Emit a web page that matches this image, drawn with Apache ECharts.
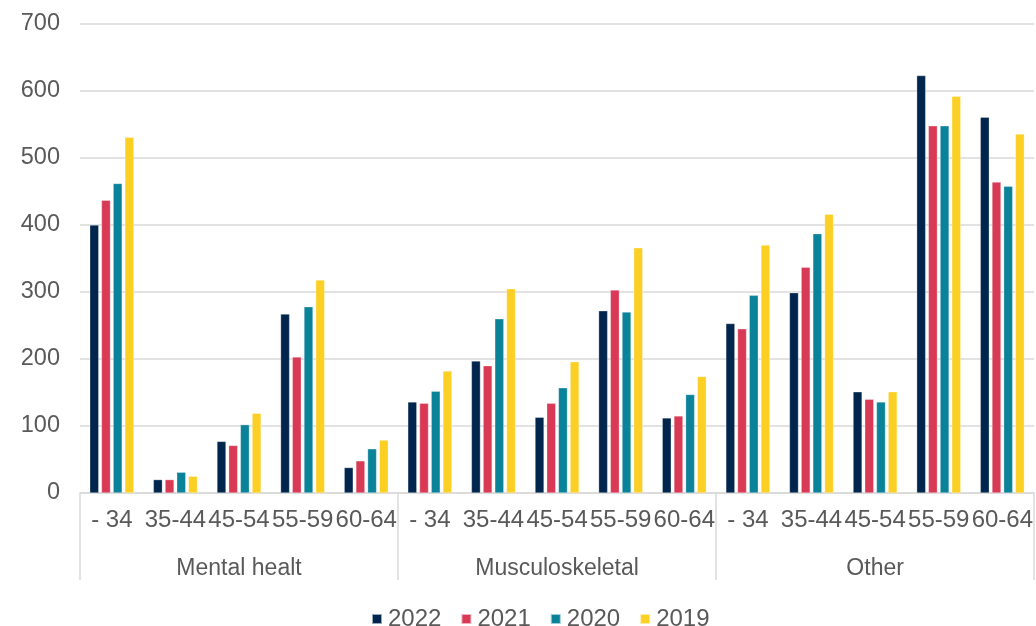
<!DOCTYPE html>
<html>
<head>
<meta charset="utf-8">
<script src="https://cdn.jsdelivr.net/npm/echarts@6/dist/echarts.min.js"></script>
<style>html,body{margin:0;padding:0;background:#fff}#c{width:1036px;height:626px}</style>
</head>
<body>
<div id="c"></div>
<script>
const groups = ["Mental healt", "Musculoskeletal", "Other"];
const ages = ["- 34", "35-44", "45-54", "55-59", "60-64"];
const years = ["2022", "2021", "2020", "2019"];
const v2022 = [400, 20, 77, 267, 38,  136, 197, 113, 272, 112,  253, 299, 151, 623, 561];
const v2021 = [437, 20, 71, 203, 48,  134, 190, 134, 303, 115,  245, 337, 140, 548, 464];
const v2020 = [462, 31, 102, 278, 66, 152, 260, 157, 270, 147,  295, 387, 136, 548, 458];
const v2019 = [531, 25, 119, 318, 79, 182, 305, 196, 366, 174,  370, 416, 151, 592, 536];
const yTicks = [0, 100, 200, 300, 400, 500, 600, 700];

const colors = ["#00264D", "#D83A56", "#0A8299", "#FCCF25"];
const values = [v2022, v2021, v2020, v2019];
const cats = [];
groups.forEach(() => ages.forEach(a => cats.push(a)));

const font = "'Liberation Sans', Arial, sans-serif";
const txt = "#595959";

const chart = echarts.init(document.getElementById('c'));
chart.setOption({
  animation: false,
  color: colors,
  grid: { left: 80, right: 1, top: 24, bottom: 133 },
  legend: {
    top: 602, left: 366,
    data: years,
    icon: 'rect', itemWidth: 10, itemHeight: 10, itemGap: 19,
    textStyle: { fontFamily: font, fontSize: 24, color: txt, padding: [0, 0, 0, 1] }
  },
  xAxis: [
    {
      type: 'category', data: cats,
      axisLine: { show: true, lineStyle: { color: '#d9d9d9', width: 1.5 } },
      axisTick: { show: false },
      axisLabel: { interval: 0, margin: 15, fontFamily: font, fontSize: 24, color: txt }
    },
    {
      type: 'category', data: groups, position: 'bottom',
      axisLine: { show: false },
      axisTick: { show: true, length: 87, lineStyle: { color: '#d9d9d9', width: 1.5 } },
      axisLabel: { interval: 0, margin: 64, fontFamily: font, fontSize: 23, color: txt },
      splitLine: { show: false }
    }
  ],
  yAxis: {
    type: 'value', min: 0, max: 700, interval: 100,
    axisLine: { show: false }, axisTick: { show: false },
    axisLabel: { margin: 20, fontFamily: font, fontSize: 23.5, color: txt,
      formatter: v => yTicks.includes(v) ? String(v) : '' },
    splitLine: { lineStyle: { color: '#d9d9d9', width: 1.5 } }
  },
  series: years.map((y, i) => ({
    name: y, type: 'bar', xAxisIndex: 0, data: values[i],
    barWidth: 9, barGap: '30%',
    itemStyle: { color: colors[i], borderColor: 'rgba(255,255,255,0.6)', borderWidth: 0.5 }
  }))
});
</script>
</body>
</html>
